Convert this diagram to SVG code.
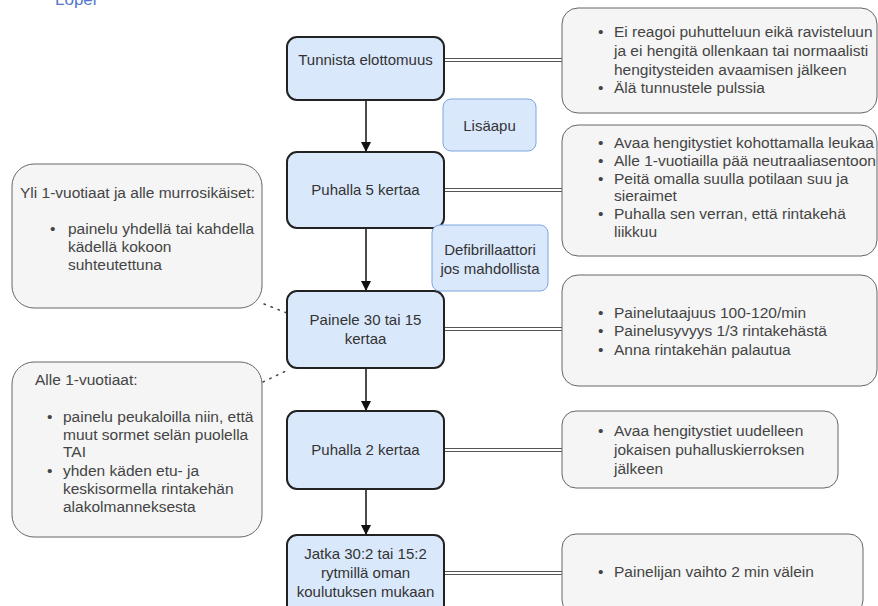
<svg xmlns="http://www.w3.org/2000/svg" width="878" height="606" viewBox="0 0 878 606">
  <style>
    text { font-family: "Liberation Sans", Arial, sans-serif; font-size: 15px; }
    .step rect { fill: #dae8fc; stroke: #222; stroke-width: 2; }
    .step text { fill: #333; text-anchor: middle; }
    .aux rect { fill: #dae8fc; stroke: #7ea6e0; stroke-width: 1; }
    .aux text { fill: #333; text-anchor: middle; }
    .note rect { fill: #f5f5f5; stroke: #666; stroke-width: 1; }
    .note text { fill: #444; font-size: 15.5px; }
    .flow { stroke: #111; stroke-width: 1.5; fill: none; }
    .link-out { stroke: #555; stroke-width: 4; fill: none; }
    .link-in { stroke: #fff; stroke-width: 2; fill: none; }
    .dots { stroke: #444; stroke-width: 1.5; stroke-dasharray: 1.5 6; stroke-linecap: round; fill: none; }
  </style>
  <defs>
    <marker id="arrow" viewBox="0 0 10 10" refX="9" refY="5" markerWidth="10" markerHeight="10" markerUnits="userSpaceOnUse" orient="auto">
      <path d="M0,0 L10,5 L0,10 Z" fill="#111"/>
    </marker>
  </defs>

  <rect width="878" height="606" fill="#fff"/>

  <!-- heading, running off the top edge -->
  <text x="55" y="5" style="font-size:17px; fill:#5577cc;">Lopel</text>

  <!-- connectors -->
  <g id="connectors">
    <line class="flow" x1="366" y1="100" x2="366" y2="151" marker-end="url(#arrow)"/>
    <line class="flow" x1="366" y1="228" x2="366" y2="290" marker-end="url(#arrow)"/>
    <line class="flow" x1="366" y1="368" x2="366" y2="410" marker-end="url(#arrow)"/>
    <line class="flow" x1="366" y1="489" x2="366" y2="534" marker-end="url(#arrow)"/>

    <g>
      <line class="link-out" x1="444" y1="60" x2="562" y2="60"/>
      <line class="link-in" x1="444" y1="60" x2="562" y2="60"/>
      <line class="link-out" x1="444" y1="190" x2="562" y2="190"/>
      <line class="link-in" x1="444" y1="190" x2="562" y2="190"/>
      <line class="link-out" x1="444" y1="329" x2="562" y2="329"/>
      <line class="link-in" x1="444" y1="329" x2="562" y2="329"/>
      <line class="link-out" x1="444" y1="450" x2="562" y2="450"/>
      <line class="link-in" x1="444" y1="450" x2="562" y2="450"/>
      <line class="link-out" x1="444" y1="573" x2="562" y2="573"/>
      <line class="link-in" x1="444" y1="573" x2="562" y2="573"/>
    </g>

    <line class="dots" x1="264" y1="304" x2="287" y2="313"/>
    <line class="dots" x1="263" y1="382" x2="290" y2="369"/>
  </g>

  <!-- main steps -->
  <g id="step-tunnista" class="step">
    <rect x="287" y="37" width="157" height="63" rx="10"/>
    <text x="365.5" y="65">Tunnista elottomuus</text>
  </g>
  <g id="step-puhalla5" class="step">
    <rect x="287" y="152" width="157" height="76" rx="10"/>
    <text x="365.5" y="195">Puhalla 5 kertaa</text>
  </g>
  <g id="step-painele" class="step">
    <rect x="287" y="291" width="157" height="77" rx="10"/>
    <text x="365.5" y="325">Painele 30 tai 15</text>
    <text x="365.5" y="344">kertaa</text>
  </g>
  <g id="step-puhalla2" class="step">
    <rect x="287" y="411" width="157" height="78" rx="10"/>
    <text x="365.5" y="455">Puhalla 2 kertaa</text>
  </g>
  <g id="step-jatka" class="step">
    <rect x="287" y="535" width="157" height="80" rx="10"/>
    <text x="365.5" y="559">Jatka 30:2 tai 15:2</text>
    <text x="365.5" y="578">rytmillä oman</text>
    <text x="365.5" y="597">koulutuksen mukaan</text>
  </g>

  <!-- side helpers -->
  <g id="aux-lisaapu" class="aux">
    <rect x="443" y="99" width="93" height="52" rx="8"/>
    <text x="489.5" y="131">Lisäapu</text>
  </g>
  <g id="aux-defib" class="aux">
    <rect x="432" y="225" width="116" height="66" rx="8"/>
    <text x="490" y="255">Defibrillaattori</text>
    <text x="490" y="274">jos mahdollista</text>
  </g>

  <!-- notes on the right -->
  <g id="note-tunnista" class="note">
    <rect x="562" y="8" width="315" height="105" rx="16"/>
    <text x="598" y="37">•</text>
    <text x="614" y="37">Ei reagoi puhutteluun eikä ravisteluun</text>
    <text x="614" y="56">ja ei hengitä ollenkaan tai normaalisti</text>
    <text x="614" y="75">hengitysteiden avaamisen jälkeen</text>
    <text x="598" y="93">•</text>
    <text x="614" y="93">Älä tunnustele pulssia</text>
  </g>
  <g id="note-puhalla5" class="note">
    <rect x="562" y="125" width="315" height="131" rx="16"/>
    <text x="598" y="148">•</text>
    <text x="614" y="148">Avaa hengitystiet kohottamalla leukaa</text>
    <text x="598" y="166">•</text>
    <text x="614" y="166">Alle 1-vuotiailla pää neutraaliasentoon</text>
    <text x="598" y="184">•</text>
    <text x="614" y="184">Peitä omalla suulla potilaan suu ja</text>
    <text x="614" y="201">sieraimet</text>
    <text x="598" y="219">•</text>
    <text x="614" y="219">Puhalla sen verran, että rintakehä</text>
    <text x="614" y="237">liikkuu</text>
  </g>
  <g id="note-painele" class="note">
    <rect x="562" y="275" width="315" height="111" rx="16"/>
    <text x="598" y="318">•</text>
    <text x="614" y="318">Painelutaajuus 100-120/min</text>
    <text x="598" y="336">•</text>
    <text x="614" y="336">Painelusyvyys 1/3 rintakehästä</text>
    <text x="598" y="355">•</text>
    <text x="614" y="355">Anna rintakehän palautua</text>
  </g>
  <g id="note-puhalla2" class="note">
    <rect x="562" y="411" width="276" height="77" rx="14"/>
    <text x="598" y="436">•</text>
    <text x="614" y="436">Avaa hengitystiet uudelleen</text>
    <text x="614" y="455">jokaisen puhalluskierroksen</text>
    <text x="614" y="474">jälkeen</text>
  </g>
  <g id="note-jatka" class="note">
    <rect x="562" y="534" width="301" height="80" rx="14"/>
    <text x="598" y="577">•</text>
    <text x="614" y="577">Painelijan vaihto 2 min välein</text>
  </g>

  <!-- notes on the left -->
  <g id="note-yli1" class="note">
    <rect x="12" y="164" width="250" height="144" rx="22"/>
    <text x="20" y="198">Yli 1-vuotiaat ja alle murrosikäiset:</text>
    <text x="50" y="234">•</text>
    <text x="68" y="234">painelu yhdellä tai kahdella</text>
    <text x="68" y="252">kädellä kokoon</text>
    <text x="68" y="270">suhteutettuna</text>
  </g>
  <g id="note-alle1" class="note">
    <rect x="12" y="362" width="250" height="175" rx="22"/>
    <text x="35" y="385">Alle 1-vuotiaat:</text>
    <text x="47" y="422">•</text>
    <text x="63" y="422">painelu peukaloilla niin, että</text>
    <text x="63" y="440">muut sormet selän puolella</text>
    <text x="63" y="457">TAI</text>
    <text x="47" y="476">•</text>
    <text x="63" y="476">yhden käden etu- ja</text>
    <text x="63" y="494">keskisormella rintakehän</text>
    <text x="63" y="512">alakolmanneksesta</text>
  </g>
</svg>
